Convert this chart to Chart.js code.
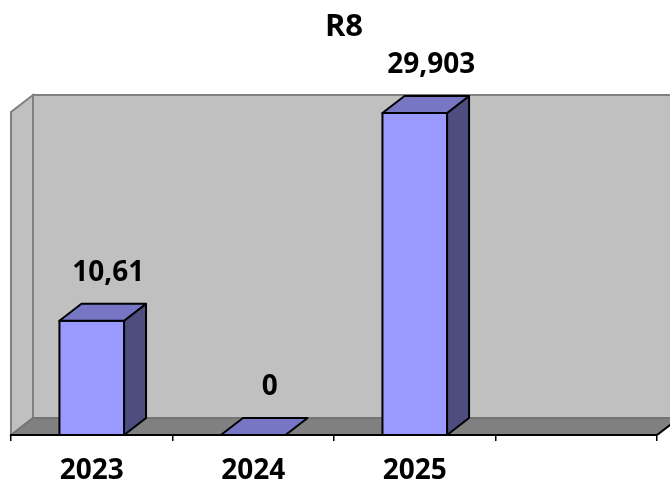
<!DOCTYPE html>
<html>
<head>
<meta charset="utf-8">
<script src="https://cdn.jsdelivr.net/npm/chart.js@4"></script>
<style>
  html, body { margin: 0; padding: 0; background: #ffffff; }
  #wrap { width: 670px; height: 482px; }
</style>
</head>
<body>
<div id="wrap"><canvas id="chart"></canvas></div>
<script>
// --- data ---
const categories = ["2023", "2024", "2025", ""];
const values = [10.61, 0, 29.903, null];
const chartTitle = "R8";
const yMax = 30;

// 3D look (Excel style)
const depthX = 22;
const depthY = 17;
const FONT = "'Open Sans', sans-serif";

function fmt(v) {
	return String(v).replace(".", ",");
}

const box3d = {
	id: "box3d",
	beforeDraw(chart) {
		const { ctx, chartArea: a } = chart;
		const L = a.left, R = a.right, T = a.top, B = a.bottom;
		ctx.save();
		ctx.lineJoin = "miter";
		// левая стенка
		ctx.fillStyle = "#c0c0c0";
		ctx.strokeStyle = "#808080";
		ctx.lineWidth = 2;
		ctx.beginPath();
		ctx.moveTo(L, B);
		ctx.lineTo(L, T);
		ctx.lineTo(L + depthX, T - depthY);
		ctx.lineTo(L + depthX, B - depthY);
		ctx.closePath();
		ctx.fill();
		ctx.stroke();
		// задняя стенка
		ctx.beginPath();
		ctx.rect(L + depthX, T - depthY, R - L, B - T);
		ctx.fill();
		ctx.stroke();
		// пол
		ctx.fillStyle = "#808080";
		ctx.beginPath();
		ctx.moveTo(L, B);
		ctx.lineTo(R, B);
		ctx.lineTo(R + depthX, B - depthY);
		ctx.lineTo(L + depthX, B - depthY);
		ctx.closePath();
		ctx.fill();
		ctx.strokeStyle = "#707070";
		ctx.lineWidth = 1.5;
		ctx.stroke();
		// правый край пола
		ctx.strokeStyle = "#000000";
		ctx.lineWidth = 2;
		ctx.beginPath();
		ctx.moveTo(R, B);
		ctx.lineTo(R + depthX, B - depthY);
		ctx.stroke();

		// заголовок
		ctx.fillStyle = "#000000";
		ctx.font = "bold 31px " + FONT;
		ctx.textAlign = "center";
		ctx.textBaseline = "middle";
		ctx.fillText(chartTitle, 344, 27);
		ctx.restore();
	},
	afterDatasetsDraw(chart) {
		const { ctx } = chart;
		const meta = chart.getDatasetMeta(0);
		ctx.save();
		ctx.lineWidth = 2;
		ctx.strokeStyle = "#000000";
		ctx.lineJoin = "round";
		meta.data.forEach((bar, i) => {
			const v = values[i];
			if (v === null || v === undefined) return;
			const p = bar.getProps(["x", "y", "width", "base"], true);
			const x0 = p.x - p.width / 2;
			const x1 = p.x + p.width / 2;
			const top = p.y;
			const base = p.base;

			// боковая грань
			if (base - top > 0.5) {
				ctx.fillStyle = "#4d4d80";
				ctx.beginPath();
				ctx.moveTo(x1, top);
				ctx.lineTo(x1 + depthX, top - depthY);
				ctx.lineTo(x1 + depthX, base - depthY);
				ctx.lineTo(x1, base);
				ctx.closePath();
				ctx.fill();
				ctx.stroke();
				// передняя грань
				ctx.fillStyle = "#9999ff";
				ctx.beginPath();
				ctx.rect(x0, top, x1 - x0, base - top);
				ctx.fill();
				ctx.stroke();
			}
			// верхняя грань
			ctx.fillStyle = "#7676c4";
			ctx.beginPath();
			ctx.moveTo(x0, top);
			ctx.lineTo(x1, top);
			ctx.lineTo(x1 + depthX, top - depthY);
			ctx.lineTo(x0 + depthX, top - depthY);
			ctx.closePath();
			ctx.fill();
			ctx.stroke();

			// подпись значения
			ctx.fillStyle = "#000000";
			ctx.font = "bold 28px " + FONT;
			ctx.textAlign = "center";
			ctx.textBaseline = "middle";
			ctx.fillText(fmt(v), p.x + depthX * 0.75, top - depthY - 31);
		});
		ctx.restore();
	},
};

new Chart(document.getElementById("chart"), {
	type: "bar",
	data: {
		labels: categories,
		datasets: [
			{
				data: values,
				backgroundColor: "rgba(0,0,0,0)",
				borderWidth: 0,
				categoryPercentage: 1,
				barPercentage: 0.4,
			},
		],
	},
	options: {
		responsive: true,
		maintainAspectRatio: false,
		animation: false,
		layout: { padding: { left: 11, right: 13, top: 112, bottom: 0 } },
		plugins: {
			legend: { display: false },
			title: { display: false },
			tooltip: { enabled: false },
		},
		scales: {
			y: { display: false, min: 0, max: yMax },
			x: {
				offset: true,
				afterFit(scale) {
					scale.height = 47;
				},
				grid: {
					offset: true,
					drawOnChartArea: false,
					drawTicks: true,
					tickLength: 6,
					color: "#000000",
					lineWidth: 1.5,
				},
				border: { display: true, color: "#000000", width: 2 },
				ticks: {
					color: "#000000",
					padding: 16,
					maxRotation: 0,
					font: { family: FONT, size: 28, weight: "bold", lineHeight: 1 },
				},
			},
		},
	},
	plugins: [box3d],
});
</script>
</body>
</html>
